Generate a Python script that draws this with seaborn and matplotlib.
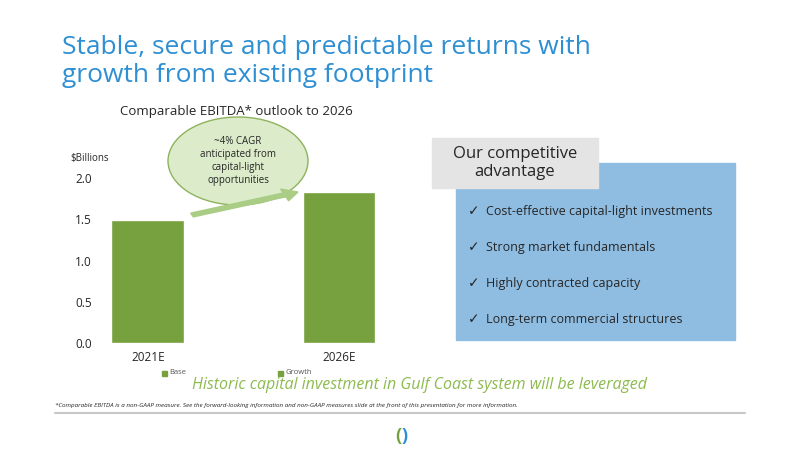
import pandas as pd
import matplotlib.pyplot as plt
import matplotlib.patches as mpatches
import seaborn as sns

years = ['2021E', '2026E']
ebitda = [1.49, 1.83]
advantages = ['Cost-effective capital-light investments', 'Strong market fundamentals',
              'Highly contracted capacity', 'Long-term commercial structures']

sns.set_style('white')
plt.rcParams['font.family'] = ['Open Sans', 'DejaVu Sans']

fig = plt.figure(figsize=(8, 4.5), dpi=100)
W, H = 800, 450

def fx(x):
    return x / W

def fy(y):
    return 1 - y / H

# title
fig.text(fx(62), fy(47), 'Stable, secure and predictable returns with', color='#2e8fd3', fontsize=19, va='center')
fig.text(fx(62), fy(76), 'growth from existing footprint', color='#2e8fd3', fontsize=19, va='center')

# chart
ax = fig.add_axes([fx(100), fy(343), fx(385) - fx(100), fy(178) - fy(343)])
df = pd.DataFrame({'year': years, 'ebitda': ebitda})
sns.barplot(data=df, x='year', y='ebitda', color='#77a03e', saturation=1, width=0.38, ax=ax)
ax.set_xlim(-0.25, 1.24)
ax.set_ylim(0, 2.0)
ax.set_yticks([0, 0.5, 1.0, 1.5, 2.0])
ax.set_yticklabels(['0.0', '0.5', '1.0', '1.5', '2.0'], fontsize=8.5)
ax.set_xticks([0, 1])
ax.set_xticklabels(years, fontsize=8.5)
ax.tick_params(length=0, pad=6)
ax.set_xlabel('')
ax.set_ylabel('')
sns.despine(ax=ax, left=True, bottom=True)
ax.patch.set_alpha(0)

fig.text(fx(120), fy(112), 'Comparable EBITDA* outlook to 2026', fontsize=9.5, va='center')
fig.text(fx(70), fy(158), '$Billions', fontsize=7, va='center')

# legend
fig.patches.append(mpatches.Rectangle((fx(162), fy(376)), 0.006, 0.011, color='#77a03e', transform=fig.transFigure))
fig.text(fx(169), fy(372), 'Base', fontsize=5.5, va='center', color='#555555')
fig.patches.append(mpatches.Rectangle((fx(278), fy(376)), 0.006, 0.011, color='#77a03e', transform=fig.transFigure))
fig.text(fx(285), fy(372), 'Growth', fontsize=5.5, va='center', color='#555555')

# callout and arrow
fig.patches.append(mpatches.Ellipse((fx(238), fy(161)), fx(140), 88 / H, facecolor='#dcebc9',
                                    edgecolor='#8db35e', lw=1, transform=fig.transFigure))
fig.text(fx(238), fy(161), '~4% CAGR\nanticipated from\ncapital-light\nopportunities', fontsize=7,
         ha='center', va='center', linespacing=1.25)
fig.patches.append(mpatches.FancyArrow(fx(192), fy(215), fx(106), 23 / H, width=0.009, head_width=0.028,
                                       head_length=0.018, color='#a9cd85', transform=fig.transFigure,
                                       length_includes_head=True))

# competitive advantage box
fig.patches.append(mpatches.Rectangle((fx(456), fy(340)), fx(279), 177 / H, color='#8fbde2', transform=fig.transFigure))
fig.patches.append(mpatches.Rectangle((fx(432), fy(188)), fx(166), 50 / H, color='#e4e4e4', transform=fig.transFigure))
fig.text(fx(515), fy(163), 'Our competitive\nadvantage', fontsize=12, ha='center', va='center', linespacing=1.2)
for i, item in enumerate(advantages):
    y = 211 + i * 36
    fig.text(fx(468), fy(y), '\u2713', fontsize=10, va='center', family='DejaVu Sans')
    fig.text(fx(486), fy(y), item, fontsize=9, va='center')

# bottom texts
fig.text(fx(420), fy(385), 'Historic capital investment in Gulf Coast system will be leveraged', color='#8dbb4f',
         fontsize=11.5, style='italic', ha='center', va='center')
fig.text(fx(55), fy(405), '*Comparable EBITDA is a non-GAAP measure. See the forward-looking information and non-GAAP measures '
         'slide at the front of this presentation for more information.', fontsize=4.5, style='italic', va='center')
fig.lines.append(plt.Line2D([fx(55), fx(745)], [fy(413), fy(413)], color='#c8c8c8', lw=1.5, transform=fig.transFigure))
fig.text(fx(401), fy(436), '(', color='#77a03e', fontsize=13, ha='right', va='center', weight='bold')
fig.text(fx(401), fy(436), ')', color='#2e8fd3', fontsize=13, ha='left', va='center', weight='bold')

fig.savefig('out.png', dpi=100)
